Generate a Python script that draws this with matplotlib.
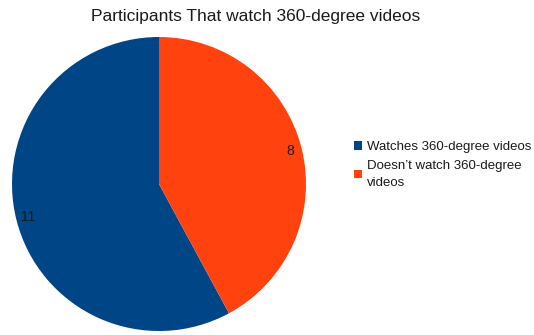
import matplotlib
matplotlib.use('Agg')
import matplotlib.pyplot as plt
from matplotlib.patches import Patch

plt.rcParams['font.family'] = ['Liberation Sans', 'DejaVu Sans']

# Data
labels = ['Watches 360-degree videos', 'Doesn\u2019t watch 360-degree\nvideos']
counts = [11, 8]
colors = ['#004586', '#ff420e']

fig = plt.figure(figsize=(5.34, 3.35), dpi=100)

# pie area in pixel coords
W, H = 534, 335
ax = fig.add_axes([12 / W, (H - 331) / H, 294 / W, 294 / H])

total = sum(counts)
wedges, texts, autotexts = ax.pie(
    counts, colors=colors, startangle=90, counterclock=True,
    autopct=lambda p: f'{round(p * total / 100):d}',
    pctdistance=0.92,
    textprops={'fontsize': 10, 'color': '#1a1a1a', 'family': 'Liberation Sans'},
    wedgeprops={'linewidth': 0})
ax.set_xlim(-1, 1)
ax.set_ylim(-1, 1)
ax.set_aspect('equal')

fig.text(256 / W, 1 - 17 / H, 'Participants That watch 360-degree videos',
         ha='center', va='center', fontsize=12.5, color='#1a1a1a')

handles = [Patch(facecolor=c, edgecolor='none') for c in colors]
leg = fig.legend(handles, labels, loc='upper left', bbox_to_anchor=(354 / W, 1 - 141 / H),
                 frameon=False, fontsize=9.5, handlelength=0.6, handleheight=0.6,
                 handletextpad=0.4, labelspacing=0.5, borderpad=0, borderaxespad=0,
                 labelcolor='#1a1a1a')
for t in leg.get_texts():
    t.set_linespacing(1.6)

fig.savefig('out.png', dpi=100)
